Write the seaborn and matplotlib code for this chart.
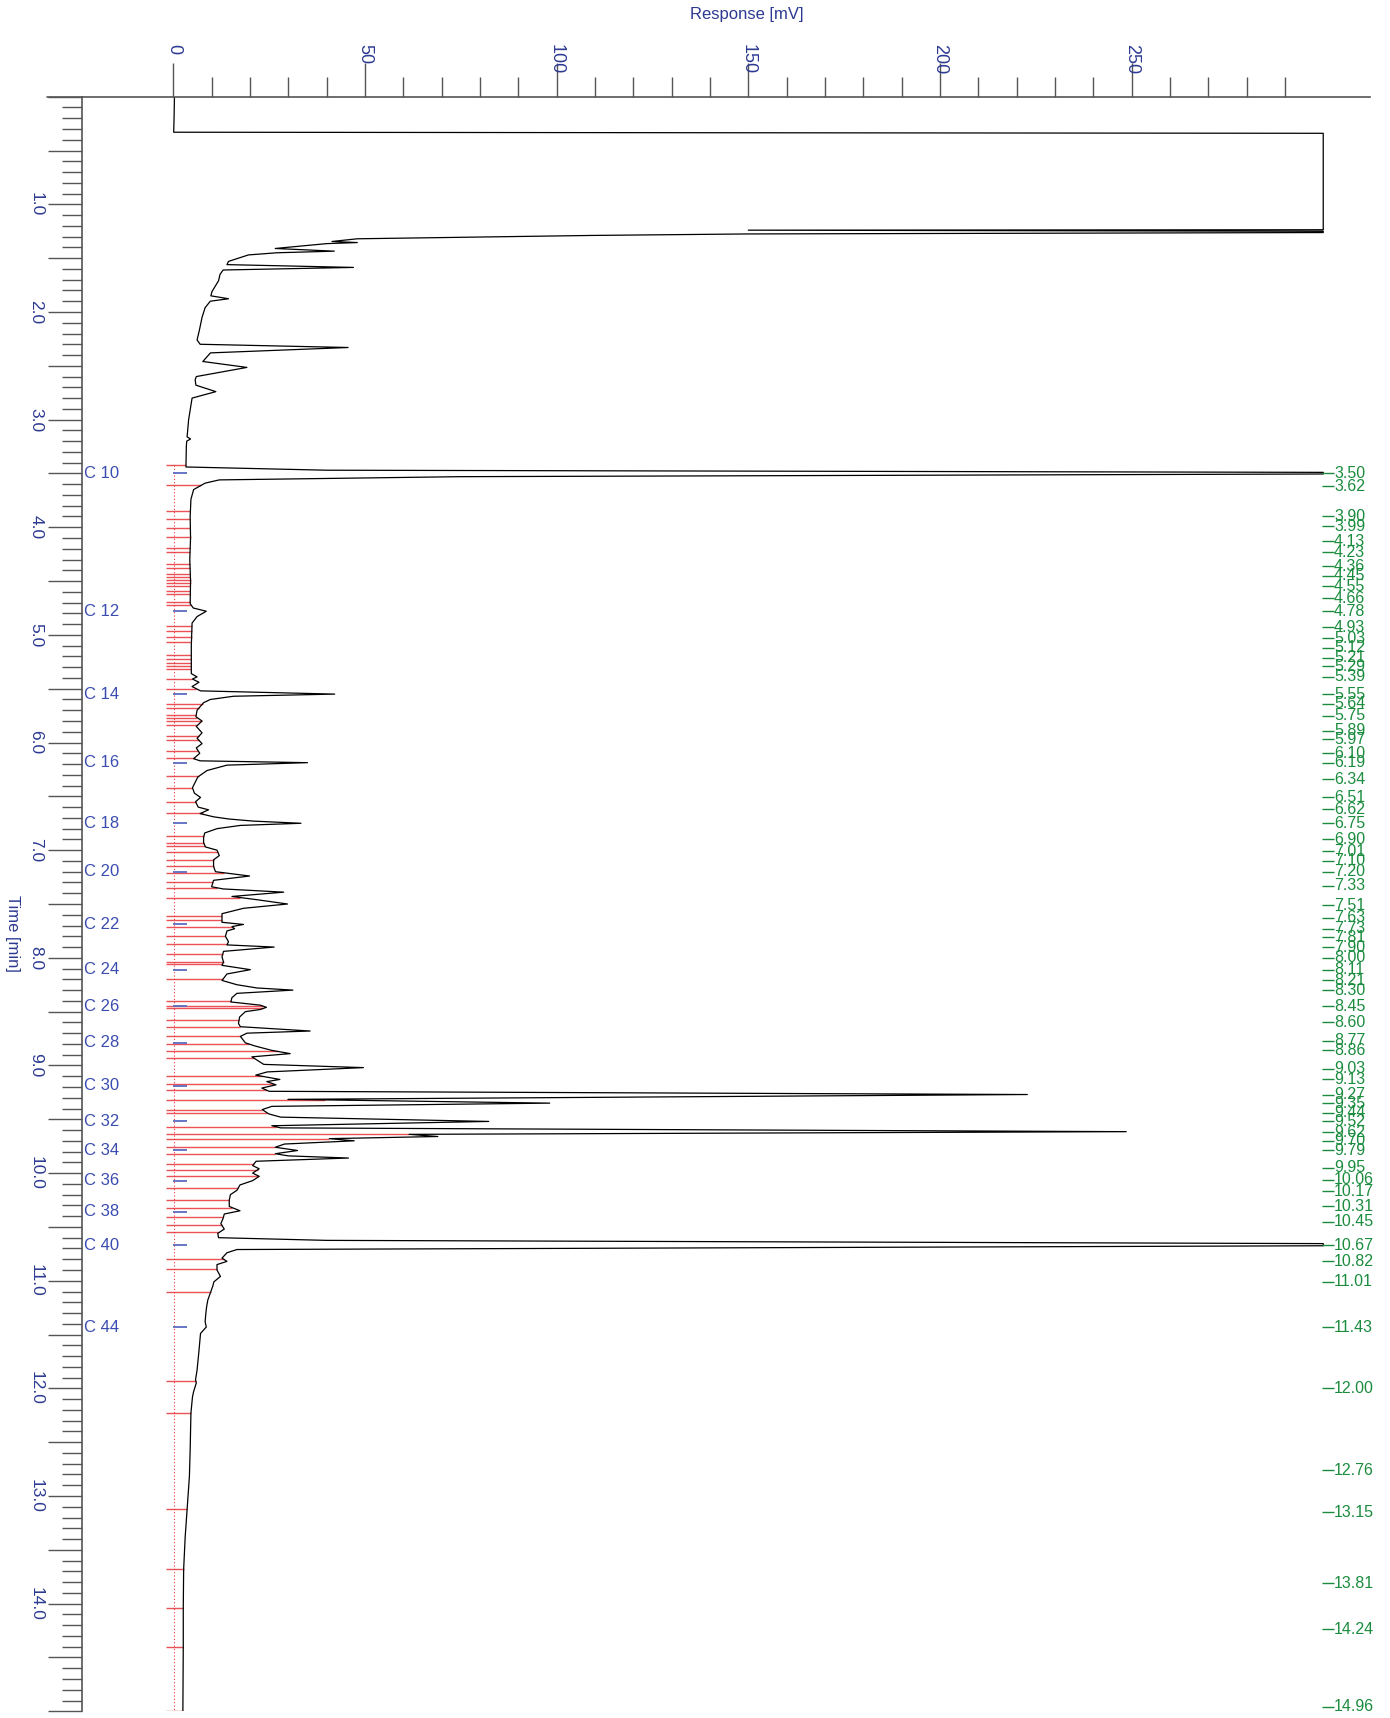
import numpy as np
import matplotlib
matplotlib.use("Agg")
import matplotlib.pyplot as plt
from matplotlib.lines import Line2D
import seaborn as sns

# ---------------- data ----------------
trace_time = [
    0.00, 0.20, 0.33, 0.34, 1.236, 1.240, 1.250, 1.262, 1.275, 1.289,
    1.32, 1.345, 1.355, 1.365, 1.41, 1.435, 1.45, 1.47, 1.53, 1.56,
    1.586, 1.61, 1.65, 1.71, 1.81, 1.85, 1.877, 1.90, 1.96, 2.05,
    2.17, 2.26, 2.30, 2.33, 2.38, 2.46, 2.515, 2.60, 2.63, 2.68,
    2.74, 2.80, 3.00, 3.16, 3.18, 3.20, 3.25, 3.44, 3.47, 3.49,
    3.505, 3.53, 3.56, 3.59, 3.65, 3.74, 3.90, 4.10, 4.30, 4.50,
    4.71, 4.75, 4.78, 4.83, 4.89, 5.10, 5.36, 5.39, 5.41, 5.44,
    5.48, 5.52, 5.55, 5.57, 5.60, 5.63, 5.70, 5.76, 5.80, 5.85,
    5.91, 5.96, 6.01, 6.05, 6.10, 6.15, 6.17, 6.187, 6.21, 6.26,
    6.32, 6.42, 6.47, 6.51, 6.55, 6.60, 6.625, 6.66, 6.69, 6.71,
    6.73, 6.75, 6.77, 6.80, 6.84, 6.88, 6.93, 6.97, 7.00, 7.05,
    7.09, 7.15, 7.20, 7.24, 7.28, 7.34, 7.36, 7.39, 7.43, 7.46,
    7.50, 7.54, 7.59, 7.67, 7.69, 7.71, 7.73, 7.75, 7.80, 7.85,
    7.88, 7.90, 7.94, 7.99, 8.04, 8.07, 8.11, 8.15, 8.21, 8.25,
    8.28, 8.30, 8.33, 8.37, 8.41, 8.44, 8.46, 8.48, 8.50, 8.55,
    8.61, 8.64, 8.68, 8.70, 8.73, 8.79, 8.82, 8.86, 8.89, 8.92,
    8.96, 8.99, 9.02, 9.06, 9.09, 9.13, 9.15, 9.18, 9.21, 9.24,
    9.27, 9.315, 9.35, 9.38, 9.41, 9.45, 9.48, 9.52, 9.56, 9.58,
    9.615, 9.64, 9.66, 9.68, 9.70, 9.73, 9.76, 9.79, 9.82, 9.84,
    9.86, 9.89, 9.93, 9.96, 10.00, 10.03, 10.07, 10.11, 10.16, 10.20,
    10.25, 10.31, 10.35, 10.38, 10.42, 10.47, 10.52, 10.56, 10.60, 10.625,
    10.655, 10.675, 10.71, 10.74, 10.79, 10.82, 10.85, 10.90, 10.96, 11.01,
    11.05, 11.10, 11.18, 11.24, 11.30, 11.38, 11.43, 11.49, 11.65, 11.83,
    11.92, 11.95, 12.03, 12.08, 12.23, 12.57, 12.82, 13.12, 13.38, 13.68,
    14.04, 14.40, 15.00]

trace_mv = [
    0.3, 0.2, 0.1, 300, 300, 150, 300, 300, 150, 109,
    48, 41.4, 48.0, 40.0, 26.6, 42.0, 27.0, 19.6, 14.4, 14.0,
    47.0, 13.0, 12.2, 11.8, 10.1, 9.8, 14.4, 9.65, 8.3, 7.5,
    6.8, 6.2, 7.0, 45.6, 9.7, 7.7, 19.2, 6.0, 5.7, 5.9,
    11.1, 4.9, 4.0, 3.6, 4.5, 3.5, 3.4, 3.3, 40, 300,
    300, 75, 12, 8.3, 5.3, 4.6, 4.4, 4.5, 4.3, 4.5,
    4.4, 5.2, 8.6, 6.2, 4.9, 4.7, 4.7, 6.2, 5.0, 6.7,
    4.9, 7.1, 42.1, 15.7, 9.65, 7.9, 6.2, 5.9, 7.5, 6.0,
    7.5, 6.2, 7.5, 6.0, 6.9, 5.3, 7.0, 35.0, 14.0, 8.8,
    6.4, 5.0, 5.5, 7.1, 5.8, 6.5, 9.2, 7.0, 10.5, 14.4,
    20.9, 33.3, 17.5, 11.4, 8.2, 7.9, 7.9, 8.4, 11.4, 12.0,
    10.5, 10.5, 11.0, 19.9, 10.5, 10.0, 13.0, 28.8, 15.3, 21.8,
    29.8, 18.3, 12.7, 12.7, 18.3, 15.3, 16.0, 14.0, 13.6, 14.4,
    14.0, 26.3, 13.1, 12.7, 13.1, 12.7, 20.1, 14.0, 12.7, 16.6,
    21.8, 31.2, 16.6, 15.3, 15.0, 22.7, 24.3, 22.7, 18.8, 17.3,
    17.0, 17.5, 35.7, 19.2, 17.5, 18.8, 21.4, 25.7, 30.5, 20.5,
    22.3, 23.6, 49.6, 24.5, 21.5, 27.8, 24.4, 26.8, 23.1, 25.0,
    222.8, 29.9, 98.2, 25.7, 23.2, 24.9, 28.0, 82.3, 25.7, 28.0,
    248.6, 61.5, 69.0, 40.7, 47.2, 29.0, 26.6, 32.4, 26.6, 30.0,
    45.7, 21.6, 20.7, 22.4, 20.7, 22.4, 20.7, 17.4, 16.6, 14.9,
    14.6, 14.6, 17.4, 13.3, 13.0, 12.4, 13.3, 11.6, 11.8, 40.0,
    300, 300, 16.6, 14.0, 12.7, 14.0, 11.4, 11.4, 12.3, 10.6,
    10.3, 9.8, 9.0, 8.7, 8.5, 8.3, 8.6, 7.1, 6.7, 6.2,
    5.8, 6.0, 5.3, 5.0, 4.6, 4.4, 4.2, 3.6, 3.1, 2.7,
    2.6, 2.6, 2.5]

# integration boundaries (red)
boundary_times = [
    3.42, 3.61, 3.85, 3.92, 4.01, 4.09, 4.19, 4.23, 4.34, 4.38,
    4.43, 4.46, 4.49, 4.52, 4.55, 4.59, 4.62, 4.69, 4.72, 4.92,
    4.96, 5.02, 5.07, 5.19, 5.22, 5.26, 5.29, 5.32, 5.41, 5.50,
    5.64, 5.68, 5.74, 5.77, 5.80, 5.84, 5.94, 5.98, 6.08, 6.14,
    6.31, 6.42, 6.55, 6.65, 6.87, 6.93, 6.96, 7.02, 7.09, 7.15,
    7.21, 7.30, 7.35, 7.44, 7.61, 7.65, 7.71, 7.80, 7.87, 7.96,
    8.04, 8.06, 8.20, 8.40, 8.45, 8.47, 8.58, 8.64, 8.73, 8.80,
    8.87, 8.93, 9.10, 9.17, 9.23, 9.32, 9.41, 9.44, 9.57, 9.64,
    9.68, 9.76, 9.82, 9.92, 9.97, 10.03, 10.14, 10.25, 10.32, 10.41,
    10.48, 10.55, 10.80, 10.89, 11.10, 11.93, 12.23, 13.12, 13.68, 14.04,
    14.40, 15.00]

# n-alkane markers
alkane_names = ["C 10", "C 12", "C 14", "C 16", "C 18", "C 20", "C 22", "C 24",
                "C 26", "C 28", "C 30", "C 32", "C 34", "C 36", "C 38", "C 40", "C 44"]
alkane_times = [3.50, 4.78, 5.55, 6.19, 6.75, 7.20, 7.69, 8.11,
                8.45, 8.79, 9.19, 9.52, 9.79, 10.07, 10.36, 10.67, 11.43]

# retention-time labels (green)
peak_labels = ["3.50", "3.62", "3.90", "3.99", "4.13", "4.23", "4.36", "4.45", "4.55",
               "4.66", "4.78", "4.93", "5.03", "5.12", "5.21", "5.29", "5.39", "5.55",
               "5.64", "5.75", "5.89", "5.97", "6.10", "6.19", "6.34", "6.51", "6.62",
               "6.75", "6.90", "7.01", "7.10", "7.20", "7.33", "7.51", "7.63", "7.73",
               "7.81", "7.90", "8.00", "8.11", "8.21", "8.30", "8.45", "8.60", "8.77",
               "8.86", "9.03", "9.13", "9.27", "9.35", "9.44", "9.52", "9.62", "9.70",
               "9.79", "9.95", "10.06", "10.17", "10.31", "10.45", "10.67", "10.82",
               "11.01", "11.43", "12.00", "12.76", "13.15", "13.81", "14.24", "14.96"]

x_major = [0, 50, 100, 150, 200, 250]
x_minor = list(range(0, 291, 10))
y_major_labels = ["1.0", "2.0", "3.0", "4.0", "5.0", "6.0", "7.0",
                  "8.0", "9.0", "10.0", "11.0", "12.0", "13.0", "14.0"]

# ---------------- style ----------------
sns.set_style("white")
plt.rcParams["font.family"] = ["Liberation Sans", "DejaVu Sans"]

NAVY = "#2c3a92"
CBLUE = "#3a4cb0"
GREEN = "#1b8c3e"
RED = "#e8333a"
AXC = "#555555"

W, H = 1390, 1718
fig = plt.figure(figsize=(W / 100, H / 100), dpi=100)
ax_l, ax_r, ax_t, ax_b = 82.3, 1370.0, 96.7, 1711.3
ax = fig.add_axes([ax_l / W, 1 - ax_b / H, (ax_r - ax_l) / W, (ax_b - ax_t) / H])

# chromatogram trace
sns.lineplot(x=trace_mv, y=trace_time, orient="y", sort=False, estimator=None,
             color="black", linewidth=0.9, ax=ax)

# red integration boundaries
bnd_end = np.interp(boundary_times, trace_time, trace_mv)
ax.hlines(boundary_times, -1.9, bnd_end, colors=RED, linewidth=1.0, alpha=0.85, zorder=1)
ax.vlines(0.3, boundary_times[0], 15.0, colors=RED, linestyles=(0, (1, 2)),
          linewidth=0.8, zorder=1)

# blue alkane markers and names
ax.hlines(alkane_times, 0.0, 3.6, colors="#5a6cc0", linewidth=1.3, zorder=2)
for name, t in zip(alkane_names, alkane_times):
    ax.text(-23.4, t, name, color=CBLUE, fontsize=12, ha="left", va="center")

# green retention-time labels
peak_times = [float(s) for s in peak_labels]
ax.hlines(peak_times, 299.7, 302.7, colors=GREEN, linewidth=1.0, clip_on=False)
for s, t in zip(peak_labels, peak_times):
    ax.text(302.8, t, s, color=GREEN, fontsize=11.5, ha="left", va="center", clip_on=False)

# ---------------- axes ----------------
ax.set_xlim(-23.74, 312.2)
ax.set_ylim(15.0, 0.0)

for side in ["right", "bottom"]:
    ax.spines[side].set_visible(False)
for side in ["left", "top"]:
    ax.spines[side].set_color(AXC)
    ax.spines[side].set_linewidth(1.2)

# top axis extends a little to the left of the time axis
ax.add_line(Line2D([-(ax_l - 47) / (ax_r - ax_l), 0], [1, 1], transform=ax.transAxes,
                   color=AXC, linewidth=1.2, clip_on=False))

# x axis on top
ax.xaxis.set_ticks_position("top")
ax.xaxis.set_label_position("top")
ax.set_xticks(x_major)
ax.set_xticklabels([str(v) for v in x_major])
ax.set_xticks(x_minor, minor=True)
ax.tick_params(axis="x", which="major", direction="out", length=24.5, width=1.0,
               color=AXC, pad=13.7, labelsize=13, labelcolor=NAVY, labelrotation=-90,
               top=True, bottom=False)
ax.tick_params(axis="x", which="minor", direction="out", length=14.4, width=1.0,
               color=AXC, top=True, bottom=False)
for lab in ax.get_xticklabels():
    lab.set_va("top")
    lab.set_ha("center")

# y axis (time)
y_major = [i * 0.5 for i in range(31)]
y_lab = []
for v in y_major:
    if v == int(v) and 1 <= v <= 14:
        y_lab.append(y_major_labels[int(v) - 1])
    else:
        y_lab.append("")
ax.set_yticks(y_major)
ax.set_yticklabels(y_lab)
ax.set_yticks([i * 0.1 for i in range(151)], minor=True)
ax.tick_params(axis="y", which="major", direction="out", length=24.5, width=1.0,
               color=AXC, pad=3.6, labelsize=12.5, labelcolor=NAVY, labelrotation=-90,
               left=True, right=False)
ax.tick_params(axis="y", which="minor", direction="out", length=14.4, width=1.0,
               color=AXC, left=True, right=False)
for lab in ax.get_yticklabels():
    lab.set_va("center")
    lab.set_ha("right")

ax.set_xlabel("Response [mV]", color=NAVY, fontsize=12)
ax.xaxis.set_label_coords((747 - ax_l) / (ax_r - ax_l), 1 + (ax_t - 15) / (ax_b - ax_t))
ax.xaxis.label.set_va("center")
ax.set_ylabel("Time [min]", color=NAVY, fontsize=12, rotation=-90)
ax.yaxis.set_label_coords((13 - ax_l) / (ax_r - ax_l), 1 - (933 - ax_t) / (ax_b - ax_t))
ax.yaxis.label.set_va("center")
ax.yaxis.label.set_ha("center")

fig.savefig("out.png", dpi=100)
